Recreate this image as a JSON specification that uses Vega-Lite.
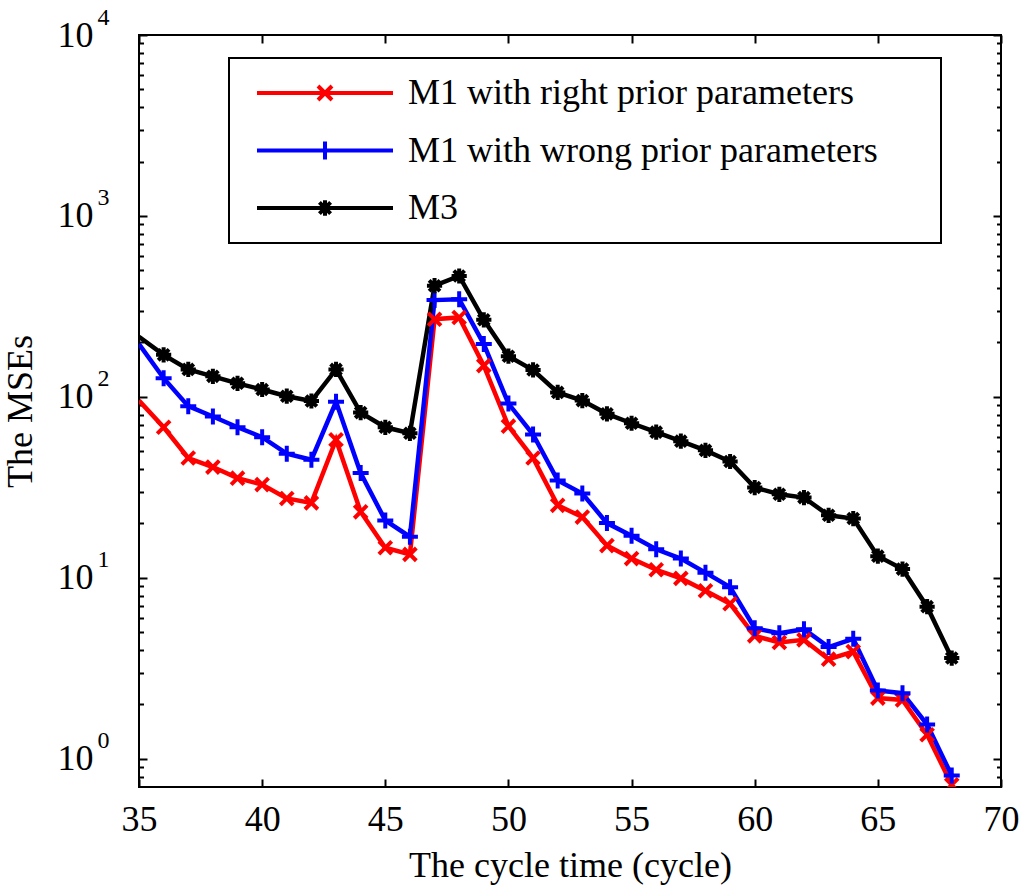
{
  "$schema": "https://vega.github.io/schema/vega-lite/v6.json",
  "width": 862,
  "height": 752,
  "autosize": {"type": "none"},
  "padding": {"left": 139, "top": 35, "right": 23, "bottom": 105},
  "background": "white",
  "config": {
    "font": "Liberation Serif",
    "view": {"stroke": "black", "strokeWidth": 2},
    "axis": {"labelColor": "black", "titleColor": "black", "tickColor": "black", "tickWidth": 2, "grid": false, "domain": false, "labelFlush": false, "labelOverlap": false, "labelBound": false, "labelFont": "Liberation Serif", "titleFont": "Liberation Serif"}
  },
  "datasets": {
    "mse": [
      {"cycle": 35, "series": "M1 with right prior parameters", "mse": 95.5},
      {"cycle": 36, "series": "M1 with right prior parameters", "mse": 68},
      {"cycle": 37, "series": "M1 with right prior parameters", "mse": 46},
      {"cycle": 38, "series": "M1 with right prior parameters", "mse": 41},
      {"cycle": 39, "series": "M1 with right prior parameters", "mse": 35.6},
      {"cycle": 40, "series": "M1 with right prior parameters", "mse": 32.8},
      {"cycle": 41, "series": "M1 with right prior parameters", "mse": 27.5},
      {"cycle": 42, "series": "M1 with right prior parameters", "mse": 26},
      {"cycle": 43, "series": "M1 with right prior parameters", "mse": 58},
      {"cycle": 44, "series": "M1 with right prior parameters", "mse": 23.2},
      {"cycle": 45, "series": "M1 with right prior parameters", "mse": 14.7},
      {"cycle": 46, "series": "M1 with right prior parameters", "mse": 13.5},
      {"cycle": 47, "series": "M1 with right prior parameters", "mse": 269},
      {"cycle": 48, "series": "M1 with right prior parameters", "mse": 275},
      {"cycle": 49, "series": "M1 with right prior parameters", "mse": 149},
      {"cycle": 50, "series": "M1 with right prior parameters", "mse": 69},
      {"cycle": 51, "series": "M1 with right prior parameters", "mse": 46},
      {"cycle": 52, "series": "M1 with right prior parameters", "mse": 25.2},
      {"cycle": 53, "series": "M1 with right prior parameters", "mse": 21.7},
      {"cycle": 54, "series": "M1 with right prior parameters", "mse": 15.1},
      {"cycle": 55, "series": "M1 with right prior parameters", "mse": 12.8},
      {"cycle": 56, "series": "M1 with right prior parameters", "mse": 11.1},
      {"cycle": 57, "series": "M1 with right prior parameters", "mse": 9.95},
      {"cycle": 58, "series": "M1 with right prior parameters", "mse": 8.5},
      {"cycle": 59, "series": "M1 with right prior parameters", "mse": 7.2},
      {"cycle": 60, "series": "M1 with right prior parameters", "mse": 4.79},
      {"cycle": 61, "series": "M1 with right prior parameters", "mse": 4.4},
      {"cycle": 62, "series": "M1 with right prior parameters", "mse": 4.55},
      {"cycle": 63, "series": "M1 with right prior parameters", "mse": 3.56},
      {"cycle": 64, "series": "M1 with right prior parameters", "mse": 3.92},
      {"cycle": 65, "series": "M1 with right prior parameters", "mse": 2.17},
      {"cycle": 66, "series": "M1 with right prior parameters", "mse": 2.12},
      {"cycle": 67, "series": "M1 with right prior parameters", "mse": 1.36},
      {"cycle": 68, "series": "M1 with right prior parameters", "mse": 0.72},
      {"cycle": 35, "series": "M1 with wrong prior parameters", "mse": 196},
      {"cycle": 36, "series": "M1 with wrong prior parameters", "mse": 127},
      {"cycle": 37, "series": "M1 with wrong prior parameters", "mse": 89},
      {"cycle": 38, "series": "M1 with wrong prior parameters", "mse": 78},
      {"cycle": 39, "series": "M1 with wrong prior parameters", "mse": 68},
      {"cycle": 40, "series": "M1 with wrong prior parameters", "mse": 60},
      {"cycle": 41, "series": "M1 with wrong prior parameters", "mse": 48.6},
      {"cycle": 42, "series": "M1 with wrong prior parameters", "mse": 45},
      {"cycle": 43, "series": "M1 with wrong prior parameters", "mse": 94},
      {"cycle": 44, "series": "M1 with wrong prior parameters", "mse": 38},
      {"cycle": 45, "series": "M1 with wrong prior parameters", "mse": 20.8},
      {"cycle": 46, "series": "M1 with wrong prior parameters", "mse": 16.9},
      {"cycle": 47, "series": "M1 with wrong prior parameters", "mse": 343},
      {"cycle": 48, "series": "M1 with wrong prior parameters", "mse": 347},
      {"cycle": 49, "series": "M1 with wrong prior parameters", "mse": 196},
      {"cycle": 50, "series": "M1 with wrong prior parameters", "mse": 92},
      {"cycle": 51, "series": "M1 with wrong prior parameters", "mse": 62},
      {"cycle": 52, "series": "M1 with wrong prior parameters", "mse": 34.6},
      {"cycle": 53, "series": "M1 with wrong prior parameters", "mse": 29.3},
      {"cycle": 54, "series": "M1 with wrong prior parameters", "mse": 20.1},
      {"cycle": 55, "series": "M1 with wrong prior parameters", "mse": 17.1},
      {"cycle": 56, "series": "M1 with wrong prior parameters", "mse": 14.4},
      {"cycle": 57, "series": "M1 with wrong prior parameters", "mse": 12.8},
      {"cycle": 58, "series": "M1 with wrong prior parameters", "mse": 10.7},
      {"cycle": 59, "series": "M1 with wrong prior parameters", "mse": 8.9},
      {"cycle": 60, "series": "M1 with wrong prior parameters", "mse": 5.28},
      {"cycle": 61, "series": "M1 with wrong prior parameters", "mse": 4.95},
      {"cycle": 62, "series": "M1 with wrong prior parameters", "mse": 5.21},
      {"cycle": 63, "series": "M1 with wrong prior parameters", "mse": 4.15},
      {"cycle": 64, "series": "M1 with wrong prior parameters", "mse": 4.61},
      {"cycle": 65, "series": "M1 with wrong prior parameters", "mse": 2.39},
      {"cycle": 66, "series": "M1 with wrong prior parameters", "mse": 2.31},
      {"cycle": 67, "series": "M1 with wrong prior parameters", "mse": 1.55},
      {"cycle": 68, "series": "M1 with wrong prior parameters", "mse": 0.81},
      {"cycle": 35, "series": "M3", "mse": 215},
      {"cycle": 36, "series": "M3", "mse": 171},
      {"cycle": 37, "series": "M3", "mse": 142},
      {"cycle": 38, "series": "M3", "mse": 130},
      {"cycle": 39, "series": "M3", "mse": 119},
      {"cycle": 40, "series": "M3", "mse": 110},
      {"cycle": 41, "series": "M3", "mse": 101},
      {"cycle": 42, "series": "M3", "mse": 95},
      {"cycle": 43, "series": "M3", "mse": 142},
      {"cycle": 44, "series": "M3", "mse": 82},
      {"cycle": 45, "series": "M3", "mse": 68},
      {"cycle": 46, "series": "M3", "mse": 63},
      {"cycle": 47, "series": "M3", "mse": 412},
      {"cycle": 48, "series": "M3", "mse": 466},
      {"cycle": 49, "series": "M3", "mse": 267},
      {"cycle": 50, "series": "M3", "mse": 168},
      {"cycle": 51, "series": "M3", "mse": 141},
      {"cycle": 52, "series": "M3", "mse": 106},
      {"cycle": 53, "series": "M3", "mse": 95.5},
      {"cycle": 54, "series": "M3", "mse": 80.7},
      {"cycle": 55, "series": "M3", "mse": 71.6},
      {"cycle": 56, "series": "M3", "mse": 63.9},
      {"cycle": 57, "series": "M3", "mse": 57},
      {"cycle": 58, "series": "M3", "mse": 50.7},
      {"cycle": 59, "series": "M3", "mse": 44},
      {"cycle": 60, "series": "M3", "mse": 31.6},
      {"cycle": 61, "series": "M3", "mse": 29},
      {"cycle": 62, "series": "M3", "mse": 27.8},
      {"cycle": 63, "series": "M3", "mse": 22.2},
      {"cycle": 64, "series": "M3", "mse": 21.3},
      {"cycle": 65, "series": "M3", "mse": 13.2},
      {"cycle": 66, "series": "M3", "mse": 11.2},
      {"cycle": 67, "series": "M3", "mse": 6.94},
      {"cycle": 68, "series": "M3", "mse": 3.61}
    ]
  },
  "data": {"name": "mse"},
  "layer": [
    {
      "mark": {"type": "line", "strokeWidth": 4.5, "clip": true},
      "encoding": {
        "x": {"field": "cycle", "type": "quantitative",
          "scale": {"domain": [35, 70], "nice": false, "zero": false},
          "axis": {"orient": "bottom", "values": [35, 40, 45, 50, 55, 60, 65, 70], "ticks": false, "tickSize": 0, "labelFontSize": 36, "labelPadding": 15, "title": "The cycle time (cycle)", "titleFontSize": 36, "titleFontWeight": "normal", "titlePadding": 11}},
        "y": {"field": "mse", "type": "quantitative",
          "scale": {"type": "log", "domain": [0.7, 10000], "nice": false},
          "axis": {"orient": "left", "values": [1, 10, 100, 1000, 10000], "labelExpr": "'10'", "ticks": false, "tickSize": 0, "labelFontSize": 36, "labelPadding": 46, "labelBaseline": "middle", "title": "The MSEs", "titleFontSize": 36, "titleFontWeight": "normal", "titlePadding": 18}},
        "color": {"field": "series", "type": "nominal",
          "scale": {"domain": ["M1 with right prior parameters", "M1 with wrong prior parameters", "M3"], "range": ["#ff0000", "#0000ff", "#000000"]},
          "legend": {
            "orient": "none", "legendX": 90, "legendY": 23, "title": null,
            "padding": 17, "strokeColor": "black", "fillColor": "white",
            "labelFont": "Liberation Serif", "labelFontSize": 36, "labelColor": "black", "labelLimit": 2000,
            "symbolSize": 196, "symbolStrokeWidth": 4, "symbolOffset": 61, "labelOffset": 65, "rowPadding": 21.5,
            "encode": {
              "symbols": {"update": {
                "shape": {"signal": "datum.value === 'M3' ? 'M-9.714,0H9.714M0,-1.1V1.1M-0.8,-0.8L0.8,0.8M-0.8,0.8L0.8,-0.8M84.4,0' : (datum.value === 'M1 with right prior parameters' ? 'M-9.714,0H9.714M-1,-1L1,1M-1,1L1,-1M84.4,0' : 'M-9.714,0H9.714M0,-1.3V1.3M84.4,0')"},
                "fill": {"value": "transparent"},
                "strokeWidth": {"value": 4},
                "opacity": {"value": 1}
              }},
              "legend": {"update": {"strokeWidth": {"value": 2}}}
            }
          }}
      }
    },
    {
      "transform": [{"filter": "datum.cycle > 35 && datum.series === 'M1 with right prior parameters'"}],
      "mark": {"type": "point", "filled": false, "strokeWidth": 4, "size": 64, "opacity": 1, "clip": true, "shape": "M-1.6,-1.6L1.6,1.6M-1.6,1.6L1.6,-1.6"},
      "encoding": {
        "x": {"field": "cycle", "type": "quantitative",
          "axis": {"orient": "bottom", "values": [35, 40, 45, 50, 55, 60, 65, 70], "labels": false, "tickSize": -8, "title": null}},
        "y": {"field": "mse", "type": "quantitative",
          "axis": {"orient": "left", "values": [1, 10, 100, 1000, 10000], "labelExpr": "'' + round(log(datum.value) / LN10)", "ticks": false, "tickSize": 0, "labelFontSize": 24, "labelAlign": "left", "labelPadding": 42, "labelOffset": -18, "title": null}},
        "color": {"field": "series", "type": "nominal", "legend": null}
      }
    },
    {
      "transform": [{"filter": "datum.cycle > 35 && datum.series === 'M1 with wrong prior parameters'"}],
      "mark": {"type": "point", "filled": false, "strokeWidth": 4, "size": 64, "opacity": 1, "clip": true, "shape": "M-2,0H2M0,-2V2"},
      "encoding": {
        "x": {"field": "cycle", "type": "quantitative",
          "axis": {"orient": "top", "values": [35, 40, 45, 50, 55, 60, 65, 70], "labels": false, "tickSize": -8, "title": null}},
        "y": {"field": "mse", "type": "quantitative",
          "axis": {"orient": "left", "values": [1, 10, 100, 1000, 10000], "labels": false, "tickSize": -8, "title": null}},
        "color": {"field": "series", "type": "nominal", "legend": null}
      }
    },
    {
      "transform": [{"filter": "datum.cycle > 35 && datum.series === 'M3'"}],
      "mark": {"type": "point", "filled": false, "strokeWidth": 4, "size": 64, "opacity": 1, "clip": true, "shape": "M0,-1.9V1.9M-1.9,0H1.9M-1.35,-1.35L1.35,1.35M-1.35,1.35L1.35,-1.35"},
      "encoding": {
        "x": {"field": "cycle", "type": "quantitative", "axis": null},
        "y": {"field": "mse", "type": "quantitative",
          "axis": {"orient": "left", "values": [0.8, 0.9, 2, 3, 4, 5, 6, 7, 8, 9, 20, 30, 40, 50, 60, 70, 80, 90, 200, 300, 400, 500, 600, 700, 800, 900, 2000, 3000, 4000, 5000, 6000, 7000, 8000, 9000], "labels": false, "tickSize": -4.5, "title": null}},
        "color": {"field": "series", "type": "nominal", "legend": null}
      }
    },
    {
      "mark": {"type": "point", "opacity": 0},
      "encoding": {
        "x": {"field": "cycle", "type": "quantitative", "axis": null},
        "y": {"field": "mse", "type": "quantitative",
          "axis": {"orient": "right", "values": [1, 10, 100, 1000, 10000], "labels": false, "tickSize": -8, "title": null}}
      }
    },
    {
      "mark": {"type": "point", "opacity": 0},
      "encoding": {
        "x": {"field": "cycle", "type": "quantitative", "axis": null},
        "y": {"field": "mse", "type": "quantitative",
          "axis": {"orient": "right", "values": [0.8, 0.9, 2, 3, 4, 5, 6, 7, 8, 9, 20, 30, 40, 50, 60, 70, 80, 90, 200, 300, 400, 500, 600, 700, 800, 900, 2000, 3000, 4000, 5000, 6000, 7000, 8000, 9000], "labels": false, "tickSize": -4.5, "title": null}}
      }
    }
  ],
  "resolve": {"axis": {"x": "independent", "y": "independent"}}
}
